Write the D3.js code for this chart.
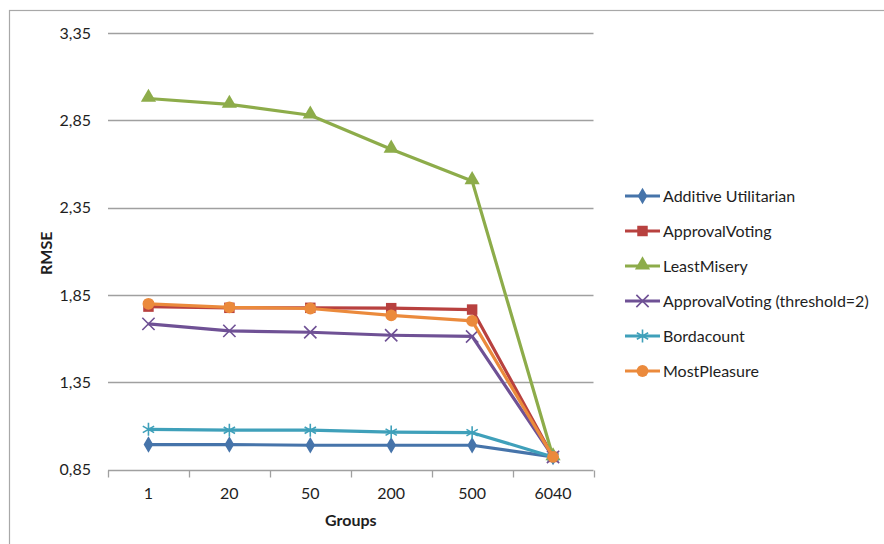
<!DOCTYPE html>
<html>
<head>
<meta charset="utf-8">
<script src="https://cdn.jsdelivr.net/npm/d3@7"></script>
<style>
  html, body { margin: 0; padding: 0; background: #fff; }
  svg { display: block; font-family: Lato, "Open Sans", sans-serif; }
</style>
</head>
<body>
<svg id="chart" width="884" height="544"></svg>
<script>
// Group sizes on the x axis
const groups = ["1", "20", "50", "200", "500", "6040"];

// RMSE per aggregation strategy
const additiveUtilitarian = [0.993, 0.993, 0.989, 0.989, 0.989, 0.922];
const approvalVoting      = [1.783, 1.776, 1.776, 1.774, 1.766, 0.922];
const leastMisery         = [2.975, 2.941, 2.879, 2.684, 2.503, 0.922];
const approvalThreshold2  = [1.684, 1.644, 1.636, 1.619, 1.612, 0.922];
const bordacount          = [1.080, 1.075, 1.075, 1.064, 1.061, 0.922];
const mostPleasure        = [1.799, 1.779, 1.772, 1.733, 1.701, 0.922];

const seriesNames = [
  "Additive Utilitarian",
  "ApprovalVoting",
  "LeastMisery",
  "ApprovalVoting (threshold=2)",
  "Bordacount",
  "MostPleasure"
];
const seriesValues = [additiveUtilitarian, approvalVoting, leastMisery,
                      approvalThreshold2, bordacount, mostPleasure];
const seriesColors = ["#4674AA", "#B8413F", "#8DAC4A", "#6F5195", "#3FA0BA", "#EB8A3C"];
const seriesMarkers = ["diamond", "square", "triangle", "cross", "star", "circle"];

const yTicks = [0.85, 1.35, 1.85, 2.35, 2.85, 3.35];

const FONT = 16;
const TEXT = "#1e1e1e";

const svg = d3.select("#chart");

// outer chart frame (left and top edges visible)
svg.append("rect")
  .attr("x", 9.5).attr("y", 10.5)
  .attr("width", 900).attr("height", 600)
  .attr("fill", "none").attr("stroke", "#a8a8a8").attr("stroke-width", 1.2);

const plot = { left: 108, right: 593.5, top: 33, bottom: 469.5 };

const x = d3.scaleBand().domain(groups).range([plot.left, plot.right]).padding(0);
const y = d3.scaleLinear().domain([0.85, 3.35]).range([plot.bottom, plot.top]);

// horizontal gridlines
svg.append("g")
  .selectAll("line")
  .data(yTicks.slice(1))
  .join("line")
  .attr("x1", plot.left).attr("x2", plot.right)
  .attr("y1", d => Math.round(y(d)) + 0.5).attr("y2", d => Math.round(y(d)) + 0.5)
  .attr("stroke", "#a0a0a0").attr("stroke-width", 1.3);

// y axis labels
const fmt = d => d.toFixed(2).replace(".", ",");
const yAxis = svg.append("g")
  .attr("transform", `translate(${plot.left},0)`)
  .call(d3.axisLeft(y).tickValues(yTicks).tickFormat(fmt).tickSize(0).tickPadding(17));
yAxis.select(".domain").remove();
yAxis.selectAll("text").attr("font-size", FONT).attr("fill", TEXT)
  .attr("font-family", "Lato, 'Open Sans', sans-serif");

// x axis with tick marks at category boundaries
const xAxisG = svg.append("g").attr("transform", `translate(0,${Math.round(plot.bottom) + 0.5})`);
xAxisG.append("line")
  .attr("x1", plot.left).attr("x2", plot.right)
  .attr("stroke", "#a0a0a0").attr("stroke-width", 1.3);
const boundaries = groups.map(g => x(g)).concat([x(groups[groups.length - 1]) + x.bandwidth()]);
xAxisG.selectAll("line.tick")
  .data(boundaries)
  .join("line")
  .attr("class", "tick")
  .attr("x1", d => Math.round(d) + 0.5).attr("x2", d => Math.round(d) + 0.5)
  .attr("y1", 0).attr("y2", 7)
  .attr("stroke", "#a0a0a0").attr("stroke-width", 1.3);
xAxisG.selectAll("text")
  .data(groups)
  .join("text")
  .attr("x", d => x(d) + x.bandwidth() / 2)
  .attr("y", 28)
  .attr("text-anchor", "middle")
  .attr("font-size", FONT).attr("fill", TEXT)
  .text(d => d);

// axis titles
svg.append("text")
  .attr("x", (plot.left + plot.right) / 2).attr("y", 526)
  .attr("text-anchor", "middle")
  .attr("font-size", FONT).attr("font-weight", "bold").attr("fill", TEXT)
  .text("Groups");
svg.append("text")
  .attr("transform", `translate(52,${(plot.top + plot.bottom) / 2 + 2}) rotate(-90)`)
  .attr("text-anchor", "middle")
  .attr("font-size", FONT).attr("font-weight", "bold").attr("fill", TEXT)
  .text("RMSE");

// marker shapes
const symbolFor = {
  diamond:  d3.symbol().type(d3.symbolDiamond).size(80),
  square:   d3.symbol().type(d3.symbolSquare).size(110),
  triangle: d3.symbol().type(d3.symbolTriangle).size(100),
  circle:   d3.symbol().type(d3.symbolCircle).size(110),
  cross:    d3.symbol().type(d3.symbolX).size(100),
  star:     d3.symbol().type(d3.symbolAsterisk).size(120)
};
function drawMarker(g, kind, color) {
  const p = g.append("path").attr("d", symbolFor[kind]());
  if (kind === "cross" || kind === "star") {
    p.attr("fill", "none").attr("stroke", color).attr("stroke-width", 1.6);
  } else {
    p.attr("fill", color);
  }
  if (kind === "triangle") p.attr("transform", "translate(0,-1)");
}

const line = d3.line()
  .x((d, i) => x(groups[i]) + x.bandwidth() / 2)
  .y(d => y(d));

const seriesG = svg.append("g");
seriesValues.forEach((vals, s) => {
  const g = seriesG.append("g");
  g.append("path")
    .datum(vals)
    .attr("d", line)
    .attr("fill", "none")
    .attr("stroke", seriesColors[s])
    .attr("stroke-width", 3.2)
    .attr("stroke-linejoin", "round");
  vals.forEach((v, i) => {
    const m = g.append("g")
      .attr("transform", `translate(${x(groups[i]) + x.bandwidth() / 2},${y(v)})`);
    drawMarker(m, seriesMarkers[s], seriesColors[s]);
  });
});

// legend
const legend = svg.append("g").attr("transform", "translate(625,196)");
seriesNames.forEach((name, s) => {
  const row = legend.append("g").attr("transform", `translate(0,${s * 35})`);
  row.append("line")
    .attr("x1", 0).attr("x2", 35).attr("y1", 0).attr("y2", 0)
    .attr("stroke", seriesColors[s]).attr("stroke-width", 3.2);
  const m = row.append("g").attr("transform", "translate(17.5,0)");
  drawMarker(m, seriesMarkers[s], seriesColors[s]);
  row.append("text")
    .attr("x", 38).attr("y", 5.5)
    .attr("font-size", FONT).attr("fill", TEXT)
    .text(name);
});
</script>
</body>
</html>
